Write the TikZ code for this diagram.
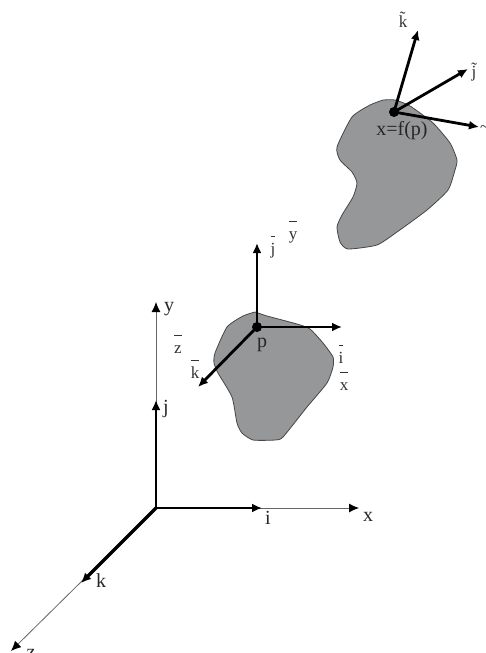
\documentclass[tikz,border=0pt]{standalone}
\usepackage{exscale}
\usepackage{fontspec}
\setmainfont{Liberation Serif}
\usetikzlibrary{arrows.meta}
\newcommand{\barlab}[1]{$\overline{\mbox{#1\rule{0pt}{0.95em}}}$}
\definecolor{blobgray}{RGB}{150,151,153}
\definecolor{blobedge}{RGB}{70,70,70}
\tikzset{
  x=1pt,y=-1pt,
  thickvec/.style={line width=2.8pt,-{Latex[length=10pt,width=9pt]},shorten <=0pt},
  thinaxis/.style={line width=0.8pt,draw=black!60,-{Latex[length=10pt,width=9pt,fill=black,color=black]}},
  blob/.style={fill=blobgray,draw=blobedge,line width=0.8pt,line join=round},
  dotnode/.style={circle,fill=black,inner sep=0pt,minimum size=10pt},
  biglab/.style={inner sep=0pt,font=\fontsize{20}{20}\selectfont,text=black!85},
  smalllab/.style={inner sep=0pt,font=\fontsize{17}{17}\selectfont,text=black!80},
}
\begin{document}
\begin{tikzpicture}
\useasboundingbox (0,0) rectangle (485,653);
\clip (0,0) rectangle (485,653);
\fill[white] (0,0) rectangle (485,653);
% blobs
\draw[blob] plot[smooth,tension=0.35] coordinates {(255,312) (267,316) (297,324) (310,329) (323,343) (333,357) (333,367) (327,383) (307,407) (283,437) (275,440) (253,440) (242,433) (237,423) (232,397) (218,373) (214,363) (215,353) (227,327) (243,316) (255,312)};
\draw[blob] plot[smooth,tension=0.35] coordinates {(383,100) (395,100) (410,106) (433,123) (450,143) (457,160) (455,170) (448,190) (427,210) (397,232) (377,245) (348,249) (340,242) (337,227) (342,215) (353,197) (357,183) (352,172) (340,160) (337,147) (352,117) (370,105) (383,100)};
% anchor points
\coordinate (O) at (156,508);
\coordinate (Y) at (156,302);
\coordinate (J) at (156,400);
\coordinate (I) at (262,508);
\coordinate (X) at (359,508);
\coordinate (K) at (81,583);
\coordinate (Z) at (11,651);
\node[dotnode] (P) at (257,327) {};
\coordinate (Jb) at (257,243);
\coordinate (Ib) at (342,327);
\coordinate (Kb) at (198,387);
\node[dotnode] (Q) at (394,112) {};
\coordinate (Kt) at (418,30);
\coordinate (Jt) at (468,69);
\coordinate (It) at (479,127);
% thin axes
\draw[thinaxis] (O) -- (Y);
\draw[thinaxis] (O) -- (X);
\draw[thinaxis] (O) -- (Z);
% thick vectors
\draw[thickvec] (O) -- (J);
\draw[thickvec] (O) -- (I);
\draw[thickvec,line width=3.2pt] (O) -- (K);
\draw[thickvec] (P.center) -- (Jb);
\draw[thickvec] (P.center) -- (Ib);
\draw[thickvec] (P.center) -- (Kb);
\draw[thickvec] (Q.center) -- (Kt);
\draw[thickvec] (Q.center) -- (Jt);
\draw[thickvec] (Q.center) -- (It);
% labels
\node[biglab] (ly) at (169,309) {y};
\node[biglab] (lj) at (166,409) {j};
\node[biglab] (li) at (268,518) {i};
\node[biglab] (lx) at (368,517) {x};
\node[biglab] (lk) at (101,581) {k};
\node[biglab] (lz) at (31,654) {z};
\node[biglab] (lp) at (262,345) {p};
\node[biglab] (lf) at (402,131) {x=f(p)};
\node[smalllab] (bj) at (273,247) {\barlab{j}};
\node[smalllab] (by) at (293,232) {\barlab{y}};
\node[smalllab] (bz) at (178,344) {\barlab{z}};
\node[smalllab] (bk) at (195,369) {\barlab{k}};
\node[smalllab] (bi) at (341,354) {\barlab{i}};
\node[smalllab] (bx) at (344,381) {\barlab{x}};
\node[smalllab] (tk) at (403,20) {\~{k}};
\node[smalllab] (tj) at (474,72) {\~{j}};
\node[smalllab,anchor=west] (ti) at (480,127) {\~{}\hspace{2pt}i};
\end{tikzpicture}
\end{document}
